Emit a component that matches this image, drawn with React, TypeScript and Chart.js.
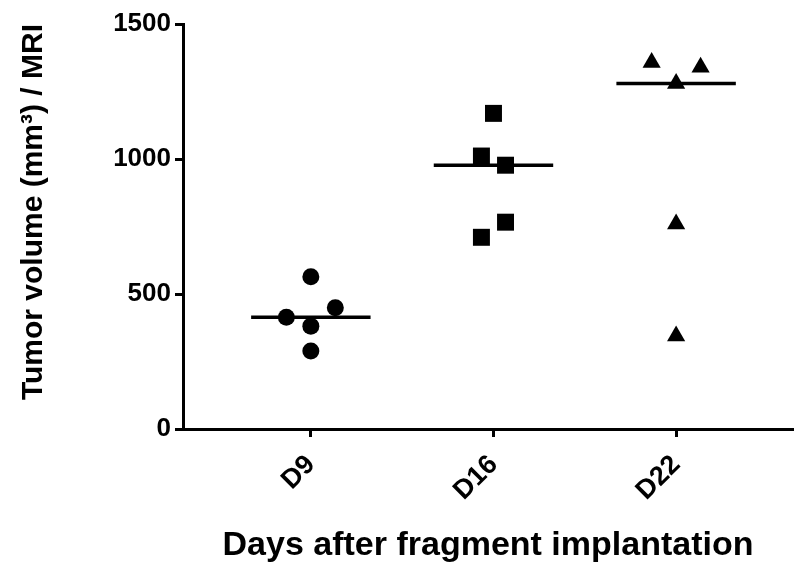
import React, { useEffect, useRef } from "react";
import { Chart, registerables } from "chart.js";

Chart.register(...registerables);

const categories = ["D9", "D16", "D22"];
const d9Values = [414, 564, 449, 381, 289];
const d9Jitter = [-0.134, 0, 0.134, 0, 0];
const d16Values = [1169, 1011, 977, 766, 710];
const d16Jitter = [0, -0.066, 0.066, 0.066, -0.066];
const d22Values = [1357, 1340, 1280, 759, 344];
const d22Jitter = [-0.134, 0.134, 0, 0, 0];
const medians = [414, 977, 1280];
const yTicks = [0, 500, 1000, 1500];

const FONT = "'Liberation Sans', Arial, Helvetica, sans-serif";

export default function App() {
  const ref = useRef<HTMLCanvasElement | null>(null);

  useEffect(() => {
    if (!ref.current) return;
    const groups = [
      { values: d9Values, jitter: d9Jitter, style: "circle", radius: 8.5 },
      { values: d16Values, jitter: d16Jitter, style: "rect", radius: 12 },
      { values: d22Values, jitter: d22Jitter, style: "triangle", radius: 10.5 },
    ];
    const pointSets = groups.map((g, i) => ({
      type: "scatter" as const,
      label: categories[i],
      data: g.values.map((v, j) => ({ x: i + g.jitter[j], y: v })),
      pointStyle: g.style,
      pointRadius: g.radius,
      pointHoverRadius: g.radius,
      backgroundColor: "#000",
      borderColor: "#000",
      borderWidth: 0,
      showLine: false,
    }));
    const medianSets = medians.map((m, i) => ({
      type: "line" as const,
      label: categories[i] + " median",
      data: [
        { x: i - 0.327, y: m },
        { x: i + 0.327, y: m },
      ],
      borderColor: "#000",
      borderWidth: 3.5,
      pointRadius: 0,
      fill: false,
    }));

    const chart = new Chart(ref.current, {
      type: "scatter",
      data: { datasets: [...medianSets, ...pointSets] as any },
      options: {
        animation: false,
        responsive: false,
        layout: { autoPadding: false, padding: { top: 24, right: 1, left: 0, bottom: 0 } },
        plugins: { legend: { display: false }, tooltip: { enabled: false } },
        scales: {
          x: {
            type: "linear",
            min: -0.7,
            max: 2.64,
            afterFit: (s: any) => {
              s.height = 137;
              s.paddingLeft = 0;
              s.paddingRight = 0;
            },
            afterBuildTicks: (s: any) => {
              s.ticks = categories.map((_, i) => ({ value: i }));
            },
            ticks: {
              callback: (v: any) => categories[Number(v)] ?? "",
              minRotation: 45,
              maxRotation: 45,
              color: "#000",
              padding: 12,
              font: { family: FONT, size: 27, weight: "bold" },
            },
            grid: {
              drawOnChartArea: false,
              drawTicks: true,
              tickLength: 8,
              tickWidth: 3,
              color: "#000",
            },
            border: { display: true, color: "#000", width: 3 },
            title: {
              display: true,
              text: "Days after fragment implantation",
              color: "#000",
              padding: { top: 4, bottom: 0 },
              font: { family: FONT, size: 34, weight: "bold" },
            },
          },
          y: {
            type: "linear",
            min: 0,
            max: 1500,
            afterFit: (s: any) => {
              s.width = 183;
              s.paddingTop = 0;
              s.paddingBottom = 0;
            },
            afterBuildTicks: (s: any) => {
              s.ticks = yTicks.map((v) => ({ value: v }));
            },
            ticks: {
              callback: (v: any) => String(v),
              color: "#000",
              padding: 4,
              font: { family: FONT, size: 26, weight: "bold" },
            },
            grid: {
              drawOnChartArea: false,
              drawTicks: true,
              tickLength: 8,
              tickWidth: 3,
              color: "#000",
            },
            border: { display: true, color: "#000", width: 3 },
            title: {
              display: true,
              text: "Tumor volume (mm³) / MRI",
              align: "end",
              color: "#000",
              padding: { top: 16, bottom: 0 },
              font: { family: FONT, size: 30, weight: "bold" },
            },
          },
        },
      },
    });
    return () => chart.destroy();
  }, []);

  return (
    <div style={{ position: "absolute", left: 0, top: 0, width: 794, height: 566, background: "#fff" }}>
      <canvas ref={ref} width={794} height={566} style={{ display: "block" }} />
    </div>
  );
}
